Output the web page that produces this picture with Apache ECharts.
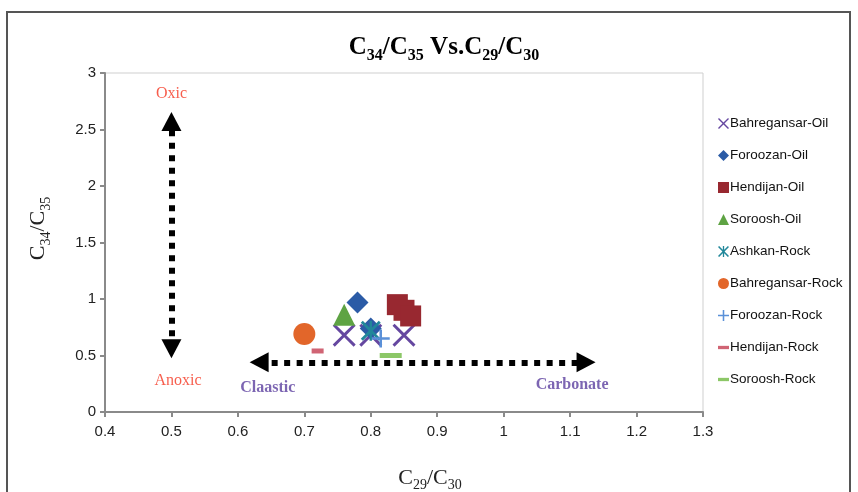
<!DOCTYPE html>
<html><head><meta charset="utf-8">
<script src="https://cdn.jsdelivr.net/npm/echarts@6/dist/echarts.min.js"></script>
<style>html,body{margin:0;padding:0;background:#fff}#c{width:858px;height:492px}</style>
</head><body><div id="c"></div>
<script>
// ---- data ----
const seriesNames = ['Bahregansar-Oil','Foroozan-Oil','Hendijan-Oil','Soroosh-Oil','Ashkan-Rock','Bahregansar-Rock','Foroozan-Rock','Hendijan-Rock','Soroosh-Rock'];
const bahOilX = [0.76, 0.80, 0.85];
const bahOilY = [0.68, 0.68, 0.68];
const foroOilX = [0.78, 0.80];
const foroOilY = [0.97, 0.74];
const hendOilX = [0.84, 0.85, 0.86];
const hendOilY = [0.95, 0.90, 0.85];
const sorOilX = [0.76];
const sorOilY = [0.86];
const ashRockX = [0.80];
const ashRockY = [0.72];
const bahRockX = [0.70];
const bahRockY = [0.69];
const foroRockX = [0.815];
const foroRockY = [0.65];
const hendRockX = [0.72];
const hendRockY = [0.54];
const sorRockX = [0.83];
const sorRockY = [0.50];
const xTicks = [0.4,0.5,0.6,0.7,0.8,0.9,1,1.1,1.2,1.3];
const yTicks = [0,0.5,1,1.5,2,2.5,3];
// annotations
const annoText = ['Oxic','Anoxic','Claastic','Carbonate'];
const annoX = [0.50, 0.51, 0.645, 1.103];
const annoY = [2.82, 0.28, 0.21, 0.24];
const vArrowX = [0.5, 0.5];
const vArrowY = [0.56, 2.57];
const hArrowX = [0.632, 1.124];
const hArrowY = [0.44, 0.44];

const xs = [bahOilX,foroOilX,hendOilX,sorOilX,ashRockX,bahRockX,foroRockX,hendRockX,sorRockX];
const ys = [bahOilY,foroOilY,hendOilY,sorOilY,ashRockY,bahRockY,foroRockY,hendRockY,sorRockY];

const X_PATH = 'path://M0,0.9L0.9,0L5,4.1L9.1,0L10,0.9L5.9,5L10,9.1L9.1,10L5,5.9L0.9,10L0,9.1L4.1,5Z';
const STAR_PATH = 'path://M0,1L1,0L5,4L9,0L10,1L6,5L10,9L9,10L5,6L1,10L0,9L4,5Z M4.4,0H5.6V10H4.4Z';
const PLUS_PATH = 'path://M4.3,0H5.7V4.3H10V5.7H5.7V10H4.3V5.7H0V4.3H4.3Z';
const DASH_PATH = 'path://M0,0H10V3H0Z';

const styles = [
  {symbol: X_PATH, size: 23, color: '#6547A0'},
  {symbol: 'diamond', size: 22, color: '#2B5BA6'},
  {symbol: 'rect', size: 21, color: '#982830'},
  {symbol: 'triangle', size: 22, color: '#5EA343'},
  {symbol: STAR_PATH, size: 20, color: '#21879A'},
  {symbol: 'circle', size: 22, color: '#E2662A'},
  {symbol: PLUS_PATH, size: 18, color: '#5A90D8'},
  {symbol: 'rect', size: [12,5], color: '#D06474'},
  {symbol: 'rect', size: [22,5], color: '#8CC767'}
];
const legendIcons = [X_PATH,'diamond','rect','triangle',STAR_PATH,'circle',PLUS_PATH,DASH_PATH,DASH_PATH];

const series = seriesNames.map((n,i)=>({
  name: n, type: 'scatter',
  symbol: styles[i].symbol, symbolSize: styles[i].size,
  itemStyle: {color: styles[i].color, opacity: 1},
  data: xs[i].map((x,j)=>[x, ys[i][j]]),
  z: 3
}));

const annoStyles = [
  {color:'#F5351F', fontWeight:'normal'},
  {color:'#F5351F', fontWeight:'normal'},
  {color:'#5B3F9F', fontWeight:'bold'},
  {color:'#5B3F9F', fontWeight:'bold'}
];
series.push({
  type: 'scatter', name: '_anno', symbolSize: 0, silent: true, z: 5,
  data: annoText.map((t,i)=>({
    value: [annoX[i], annoY[i]], name: t,
    label: {show: true, position: 'inside', formatter: t, fontFamily: '"Liberation Serif","Times New Roman",serif', fontSize: 16, color: annoStyles[i].color, fontWeight: annoStyles[i].fontWeight}
  })),
  markLine: {
    silent: true, symbol: ['triangle','triangle'], symbolSize: [20,19],
    label: {show: false},
    lineStyle: {color: '#000', width: 6, type: [6,6.5], cap: 'butt', opacity: 1},
    emphasis: {disabled: true},
    data: [
      [{coord: [vArrowX[0], vArrowY[0]]}, {coord: [vArrowX[1], vArrowY[1]]}],
      [{coord: [hArrowX[0], hArrowY[0]]}, {coord: [hArrowX[1], hArrowY[1]]}]
    ]
  }
});

const serif = '"Liberation Serif","Times New Roman",serif';
const sans = '"Liberation Sans",Arial,sans-serif';
const chart = echarts.init(document.getElementById('c'), null, {renderer: 'canvas'});
chart.setOption({
  animation: false,
  backgroundColor: '#fff',
  title: {
    text: 'C{s|34}/C{s|35} Vs.C{s|29}/C{s|30}',
    left: 439, textAlign: 'center', top: 26,
    textStyle: {
      fontFamily: serif, fontSize: 25, fontWeight: 'bold', color: '#000',
      rich: {s: {fontFamily: serif, fontSize: 16, fontWeight: 'bold', color: '#000', verticalAlign: 'top', padding: [17,0,0,0]}}
    }
  },
  graphic: [{
    type: 'rect', shape: {x: 7, y: 12, width: 843, height: 500},
    style: {fill: 'none', stroke: '#555', lineWidth: 2}, silent: true, z: 0
  }],
  legend: {
    orient: 'vertical', left: 713, top: 111,
    itemWidth: 11, itemHeight: 11, itemGap: 17,
    textStyle: {fontFamily: sans, fontSize: 13.5, color: '#111', lineHeight: 15, padding: [0,0,0,-4]},
    data: seriesNames.map((n,i)=>({name: n, icon: legendIcons[i], itemStyle: {color: styles[i].color}}))
  },
  grid: {left: 105, right: 155, top: 73, bottom: 80, show: true, borderColor: '#cfcfcf', borderWidth: 1, backgroundColor: 'transparent', containLabel: false, outerBoundsMode: 'none'},
  xAxis: {
    type: 'value', min: 0.4, max: 1.3, interval: 0.1,
    name: 'C{s|29}/C{s|30}', nameLocation: 'middle', nameGap: 52,
    nameTextStyle: {fontFamily: serif, fontSize: 22, color: '#222', padding: [0,0,0,52],
      rich: {s: {fontFamily: serif, fontSize: 14, color: '#222', verticalAlign: 'top', padding: [14,0,0,0]}}},
    axisLine: {show: true, onZero: false, lineStyle: {color: '#8a8a8a', width: 2}},
    axisTick: {show: true, length: 5, lineStyle: {color: '#8a8a8a', width: 2}},
    splitLine: {show: false},
    axisLabel: {fontFamily: sans, fontSize: 15, color: '#222', margin: 12,
      formatter: v => { const t = xTicks.find(k => Math.abs(k - v) < 1e-6); return t === undefined ? '' : String(t); }}
  },
  yAxis: {
    type: 'value', min: 0, max: 3, interval: 0.5,
    name: 'C{s|34}/C{s|35}', nameLocation: 'middle', nameGap: 52, nameRotate: 90,
    nameTextStyle: {fontFamily: serif, fontSize: 22, color: '#222', padding: [0,0,0,28],
      rich: {s: {fontFamily: serif, fontSize: 14, color: '#222', verticalAlign: 'top', padding: [15,0,0,0]}}},
    axisLine: {show: true, onZero: false, lineStyle: {color: '#8a8a8a', width: 2}},
    axisTick: {show: true, length: 5, lineStyle: {color: '#8a8a8a', width: 2}},
    splitLine: {show: false},
    axisLabel: {fontFamily: sans, fontSize: 15, color: '#222', margin: 9,
      formatter: v => { const t = yTicks.find(k => Math.abs(k - v) < 1e-6); return t === undefined ? '' : String(t); }}
  },
  series: series
});
</script></body></html>
